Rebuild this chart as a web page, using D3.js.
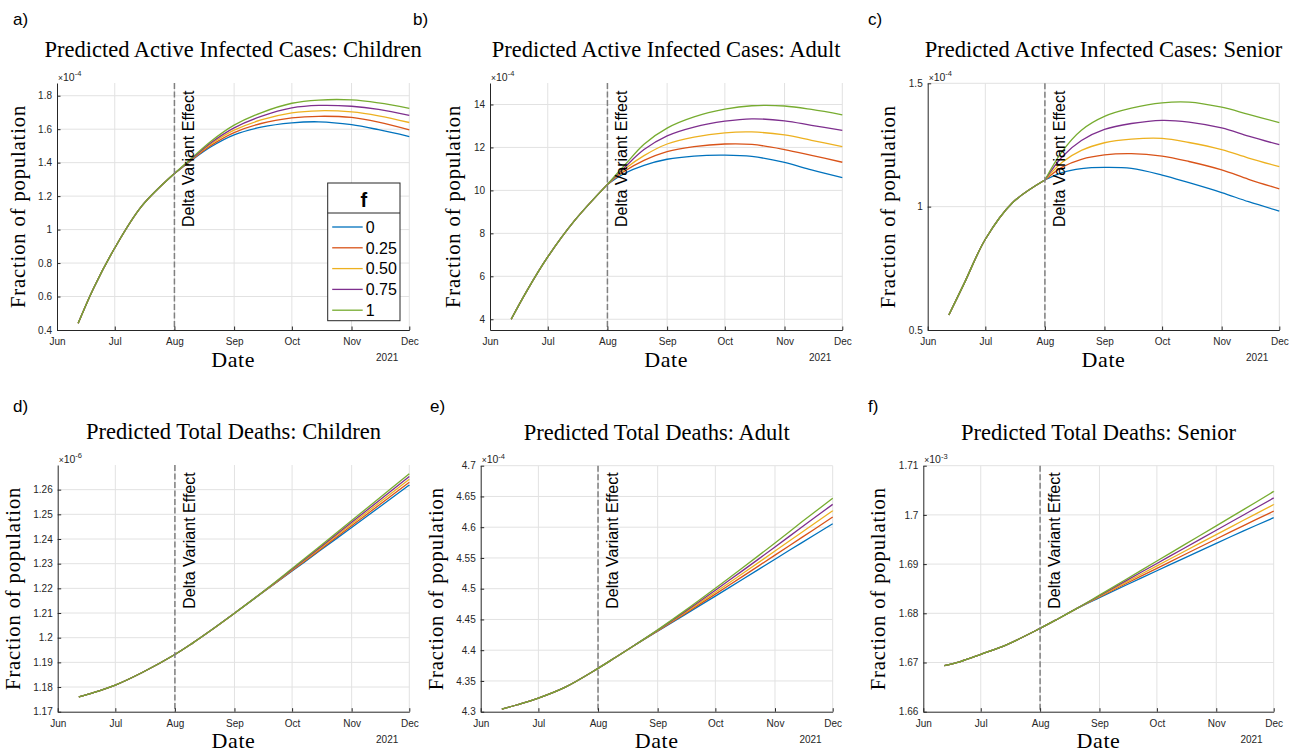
<!DOCTYPE html>
<html><head><meta charset="utf-8">
<script src="https://cdn.jsdelivr.net/npm/d3@7"></script>
<style>body{margin:0;background:#fff} svg{display:block}</style>
</head><body>
<svg id="c" width="1306" height="752"></svg>
<script>
// ---------------- DATA ----------------
const dates = ["2021-06-12","2021-06-20","2021-07-01","2021-07-15","2021-08-01","2021-08-10","2021-08-20",
               "2021-09-01","2021-09-15","2021-10-01","2021-10-15","2021-11-01","2021-11-15","2021-12-01"];
const fLevels = ["0","0.25","0.50","0.75","1"];
const monthTicks = ["2021-06-01","2021-07-01","2021-08-01","2021-09-01","2021-10-01","2021-11-01","2021-12-01"];
const monthLabels = ["Jun","Jul","Aug","Sep","Oct","Nov","Dec"];
const deltaDate = "2021-08-01";

// Active infected cases, children (x 10^-4)
const casesChildren = [
  [0.44,0.65,0.89,1.14,1.335,1.415,1.495,1.566,1.612,1.638,1.644,1.627,1.597,1.556],
  [0.44,0.65,0.89,1.14,1.335,1.418,1.503,1.580,1.634,1.667,1.677,1.670,1.642,1.596],
  [0.44,0.65,0.89,1.14,1.335,1.421,1.511,1.594,1.655,1.697,1.710,1.703,1.680,1.640],
  [0.44,0.65,0.89,1.14,1.335,1.424,1.519,1.608,1.676,1.727,1.742,1.737,1.718,1.682],
  [0.44,0.65,0.89,1.14,1.335,1.428,1.528,1.624,1.698,1.755,1.774,1.775,1.757,1.725]
];
// Active infected cases, adult (x 10^-4)
const casesAdult = [
  [4.0,5.3,6.9,8.6,10.28,10.80,11.17,11.45,11.60,11.64,11.58,11.30,10.95,10.59],
  [4.0,5.3,6.9,8.6,10.28,10.90,11.40,11.81,12.04,12.16,12.14,11.90,11.63,11.31],
  [4.0,5.3,6.9,8.6,10.28,11.00,11.62,12.16,12.48,12.68,12.72,12.58,12.33,12.04],
  [4.0,5.3,6.9,8.6,10.28,11.08,11.90,12.54,12.95,13.22,13.33,13.24,13.03,12.79],
  [4.0,5.3,6.9,8.6,10.28,11.18,12.15,12.90,13.42,13.78,13.94,13.93,13.77,13.52]
];
// Active infected cases, senior (x 10^-4)
const casesSenior = [
  [0.561,0.689,0.868,1.015,1.108,1.138,1.154,1.159,1.155,1.128,1.097,1.057,1.020,0.982],
  [0.561,0.689,0.868,1.015,1.108,1.160,1.192,1.210,1.215,1.205,1.183,1.149,1.111,1.072],
  [0.561,0.689,0.868,1.015,1.108,1.180,1.228,1.259,1.274,1.277,1.260,1.231,1.197,1.162],
  [0.561,0.689,0.868,1.015,1.108,1.202,1.268,1.313,1.337,1.350,1.343,1.319,1.286,1.251],
  [0.561,0.689,0.868,1.015,1.108,1.224,1.310,1.366,1.399,1.421,1.424,1.403,1.374,1.341]
];
// Total deaths, children (x 10^-6)
const deathsChildren = [
  [1.1760,1.1778,1.1808,1.1859,1.1932,1.1977,1.2031,1.2099,1.2179,1.2270,1.2350,1.2447,1.2527,1.2619],
  [1.1760,1.1778,1.1808,1.1859,1.1932,1.1977,1.2031,1.2099,1.2180,1.2272,1.2354,1.2454,1.2536,1.2630],
  [1.1760,1.1778,1.1808,1.1859,1.1932,1.1977,1.2031,1.2099,1.2180,1.2275,1.2359,1.2461,1.2545,1.2642],
  [1.1760,1.1778,1.1808,1.1859,1.1932,1.1977,1.2031,1.2099,1.2181,1.2277,1.2363,1.2468,1.2554,1.2653],
  [1.1760,1.1778,1.1808,1.1859,1.1932,1.1977,1.2031,1.2099,1.2181,1.2280,1.2368,1.2475,1.2563,1.2665]
];
// Total deaths, adult (x 10^-4)
const deathsAdult = [
  [4.3043,4.3113,4.3222,4.3400,4.3705,4.3881,4.4081,4.4310,4.4575,4.4880,4.5150,4.5480,4.5750,4.6057],
  [4.3043,4.3113,4.3222,4.3400,4.3705,4.3881,4.4081,4.4315,4.4591,4.4912,4.5197,4.5546,4.5834,4.6165],
  [4.3043,4.3113,4.3222,4.3400,4.3705,4.3881,4.4081,4.4320,4.4607,4.4943,4.5243,4.5612,4.5918,4.6268],
  [4.3043,4.3113,4.3222,4.3400,4.3705,4.3881,4.4081,4.4326,4.4623,4.4975,4.5290,4.5678,4.6003,4.6371],
  [4.3043,4.3113,4.3222,4.3400,4.3705,4.3881,4.4081,4.4331,4.4639,4.5007,4.5336,4.5744,4.6087,4.6469]
];
// Total deaths, senior (x 10^-3)
const deathsSenior = [
  [1.66935,1.67015,1.67165,1.67370,1.67694,1.67880,1.68095,1.68320,1.68575,1.68865,1.69118,1.69422,1.69670,1.69943],
  [1.66935,1.67015,1.67165,1.67370,1.67694,1.67880,1.68095,1.68332,1.68605,1.68914,1.69185,1.69511,1.69778,1.70077],
  [1.66935,1.67015,1.67165,1.67370,1.67694,1.67880,1.68095,1.68345,1.68634,1.68963,1.69251,1.69600,1.69886,1.70211],
  [1.66935,1.67015,1.67165,1.67370,1.67694,1.67880,1.68095,1.68357,1.68664,1.69013,1.69318,1.69689,1.69993,1.70345],
  [1.66935,1.67015,1.67165,1.67370,1.67694,1.67880,1.68095,1.68370,1.68693,1.69062,1.69385,1.69778,1.70101,1.70478]
];

const yTicksA = [0.4,0.6,0.8,1,1.2,1.4,1.6,1.8];
const yLabelsA = ["0.4","0.6","0.8","1","1.2","1.4","1.6","1.8"];
const yTicksB = [4,6,8,10,12,14];
const yLabelsB = ["4","6","8","10","12","14"];
const yTicksC = [0.5,1,1.5];
const yLabelsC = ["0.5","1","1.5"];
const yTicksD = [1.17,1.18,1.19,1.2,1.21,1.22,1.23,1.24,1.25,1.26];
const yLabelsD = ["1.17","1.18","1.19","1.2","1.21","1.22","1.23","1.24","1.25","1.26"];
const yTicksE = [4.3,4.35,4.4,4.45,4.5,4.55,4.6,4.65,4.7];
const yLabelsE = ["4.3","4.35","4.4","4.45","4.5","4.55","4.6","4.65","4.7"];
const yTicksF = [1.66,1.67,1.68,1.69,1.7,1.71];
const yLabelsF = ["1.66","1.67","1.68","1.69","1.7","1.71"];

const titles = ["Predicted Active Infected Cases: Children","Predicted Active Infected Cases: Adult",
  "Predicted Active Infected Cases: Senior","Predicted Total Deaths: Children",
  "Predicted Total Deaths: Adult","Predicted Total Deaths: Senior"];
const letters = ["a)","b)","c)","d)","e)","f)"];
const exponents = ["-4","-4","-4","-6","-4","-3"];

// ---------------- STYLE / LAYOUT ----------------
const colors = ["#0072BD","#D95319","#EDB120","#7E2F8E","#77AC30"];
const SANS = "'Liberation Sans', Arial, Helvetica, sans-serif";
const SERIF = "'Liberation Serif', 'Times New Roman', serif";
const AX = "#262626";
const GRID = "#e2e2e2";

const panels = [
  {L:57,   R:409.3, T:83,    B:330,   dom:[0.4,1.876], ticks:yTicksA, labs:yLabelsA, data:casesChildren, split:true, legend:true, letter:[13,24.5]},
  {L:490,  R:842.3, T:83,    B:330,   dom:[3.5,15],    ticks:yTicksB, labs:yLabelsB, data:casesAdult,    split:true, letter:[413,24.5]},
  {L:927.7,R:1279.3,T:83.3,  B:330,   dom:[0.5,1.5],   ticks:yTicksC, labs:yLabelsC, data:casesSenior,   split:true, letter:[868,24.5]},
  {L:57.7, R:409.3, T:465,   B:711.7, dom:[1.17,1.27], ticks:yTicksD, labs:yLabelsD, data:deathsChildren,letter:[13,412]},
  {L:480.7,R:832.7, T:465.7, B:711.7, dom:[4.3,4.7],   ticks:yTicksE, labs:yLabelsE, data:deathsAdult,   letter:[430,412]},
  {L:923.3,R:1273.7,T:465.7, B:711.7, dom:[1.66,1.71], ticks:yTicksF, labs:yLabelsF, data:deathsSenior,  letter:[868,412]}
];

const svg = d3.select("#c");
const parse = d3.utcParse("%Y-%m-%d");
const xDates = dates.map(parse);
const mDates = monthTicks.map(parse);
const dDate = parse(deltaDate);
const splitIdx = dates.indexOf(deltaDate);

function fitSize(str, family, target){
  const t = svg.append("text").attr("font-family",family).attr("font-size",100).text(str);
  const w = t.node().getComputedTextLength(); t.remove();
  return 100*target/w;
}
const titleSize = Math.min(22.5, fitSize(titles[0], SERIF, 397));
const ylabSize = 20.5;
const dateSize = 22;

panels.forEach((p, pi) => {
  const g = svg.append("g");
  const x = d3.scaleUtc().domain([mDates[0], mDates[mDates.length-1]]).range([p.L, p.R]);
  const y = d3.scaleLinear().domain(p.dom).range([p.B, p.T]);

  // grid
  g.append("g").selectAll("line").data(mDates.slice(1)).join("line")
    .attr("x1", d=>x(d)).attr("x2", d=>x(d)).attr("y1", p.T).attr("y2", p.B)
    .attr("stroke", GRID).attr("stroke-width", 1);
  g.append("g").selectAll("line").data(p.ticks.filter(v => Math.abs(v-p.dom[0])>1e-9)).join("line")
    .attr("x1", p.L).attr("x2", p.R).attr("y1", d=>y(d)).attr("y2", d=>y(d))
    .attr("stroke", GRID).attr("stroke-width", 1);

  // series
  const line = d3.line().x(d=>x(d[0])).y(d=>y(d[1])).curve(d3.curveCatmullRom.alpha(0.5));
  p.data.forEach((s,k) => {
    const pts = s.map((v,i)=>[xDates[i], v]);
    const segs = p.split ? [pts.slice(0, splitIdx+1), pts.slice(splitIdx)] : [pts];
    segs.forEach(seg => {
      g.append("path").attr("d", line(seg)).attr("fill","none")
        .attr("stroke", colors[k]).attr("stroke-width", 1.3).attr("stroke-linejoin","round");
    });
  });

  // delta line
  g.append("line").attr("x1", x(dDate)).attr("x2", x(dDate)).attr("y1", p.T).attr("y2", p.B)
    .attr("stroke", "#808080").attr("stroke-width", 1.5).attr("stroke-dasharray","6,2.5");
  g.append("text").attr("transform", `translate(${x(dDate)+20},${p.B-103}) rotate(-90)`)
    .attr("font-family", SANS).attr("font-size", 16).attr("fill", "#000")
    .text("Delta Variant Effect");

  // axes
  const xa = g.append("g").attr("transform", `translate(0,${p.B})`)
    .call(d3.axisBottom(x).tickValues(mDates).tickFormat((d,i)=>monthLabels[i])
      .tickSizeInner(-3.5).tickSizeOuter(0).tickPadding(8));
  const ya = g.append("g").attr("transform", `translate(${p.L},0)`)
    .call(d3.axisLeft(y).tickValues(p.ticks).tickFormat((d,i)=>p.labs[i])
      .tickSizeInner(-3.5).tickSizeOuter(0).tickPadding(5));
  [xa, ya].forEach(a => {
    a.attr("font-family", SANS).attr("font-size", 10);
    a.select(".domain").attr("stroke", AX).attr("stroke-width", 1);
    a.selectAll(".tick line").attr("stroke", AX).attr("stroke-width", 1);
    a.selectAll(".tick text").attr("fill", AX);
  });

  // exponent
  const ex = g.append("text").attr("x", p.L+1).attr("y", p.T-2.5).attr("font-family", SANS).attr("fill", AX);
  ex.append("tspan").attr("font-size", 8.5).text("×");
  ex.append("tspan").attr("font-size", 10.5).text("10");
  ex.append("tspan").attr("font-size", 7.5).attr("dy", -4.5).text(exponents[pi]);

  // year
  g.append("text").attr("x", p.R-11).attr("y", p.B+31).attr("text-anchor","end")
    .attr("font-family", SANS).attr("font-size", 10).attr("fill", AX).text("2021");

  // labels
  g.append("text").attr("x", (p.L+p.R)/2).attr("y", p.B+36.5).attr("text-anchor","middle")
    .attr("font-family", SERIF).attr("font-size", dateSize).attr("letter-spacing", 0.6)
    .attr("fill","#000").text("Date");
  let minX = Infinity;
  ya.selectAll(".tick text").each(function(){ const b=this.getBBox(); minX=Math.min(minX, p.L + b.x); });
  g.append("text").attr("transform", `translate(${minX-13.5},${(p.T+p.B)/2}) rotate(-90)`)
    .attr("text-anchor","middle").attr("font-family", SERIF).attr("font-size", ylabSize)
    .attr("letter-spacing", 0.9).attr("fill","#000").text("Fraction of population");
  g.append("text").attr("x", (p.L+p.R)/2).attr("y", p.T-26).attr("text-anchor","middle")
    .attr("font-family", SERIF).attr("font-size", titleSize).attr("fill","#000").text(titles[pi]);
  g.append("text").attr("x", p.letter[0]).attr("y", p.letter[1])
    .attr("font-family", SANS).attr("font-size", 17).attr("fill","#000").text(letters[pi]);

  // legend
  if (p.legend) {
    const lx = p.R-81.6, ly = p.B-147, lw = 72.3, lh = 137.7;
    const lg = g.append("g");
    lg.append("rect").attr("x", lx).attr("y", ly).attr("width", lw).attr("height", lh)
      .attr("fill", "#fff").attr("stroke", AX).attr("stroke-width", 1);
    lg.append("line").attr("x1", lx).attr("x2", lx+lw).attr("y1", ly+30).attr("y2", ly+30)
      .attr("stroke", AX).attr("stroke-width", 1);
    lg.append("text").attr("x", lx+lw/2).attr("y", ly+23.5).attr("text-anchor","middle")
      .attr("font-family", SANS).attr("font-weight","bold").attr("font-size", 20).attr("fill","#000").text("f");
    fLevels.forEach((f,k) => {
      const cy = ly + 44 + k*20.8;
      lg.append("line").attr("x1", lx+4.5).attr("x2", lx+35).attr("y1", cy).attr("y2", cy)
        .attr("stroke", colors[k]).attr("stroke-width", 1.3);
      lg.append("text").attr("x", lx+38).attr("y", cy+5.8).attr("font-family", SANS)
        .attr("font-size", 16).attr("fill","#000").text(f);
    });
  }
});
</script>
</body></html>
